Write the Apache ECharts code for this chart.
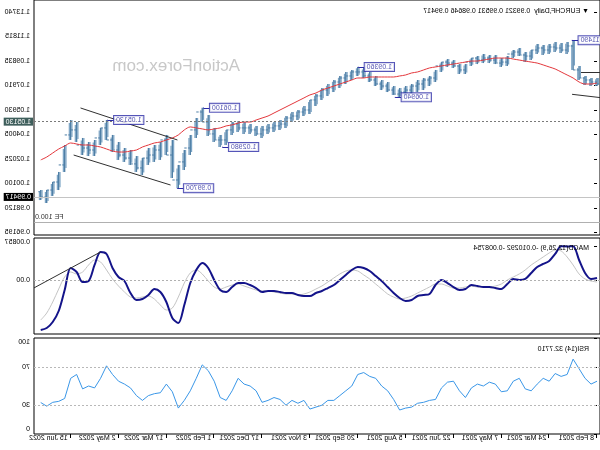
<!DOCTYPE html>
<html><head><meta charset="utf-8">
<script src="https://cdn.jsdelivr.net/npm/echarts@6/dist/echarts.min.js"></script>
<style>html,body{margin:0;padding:0;background:#fff}#c{width:600px;height:450px;transform:scaleX(-1);}</style>
</head><body><div id="c"></div><script>
// ---- data (bar index = trading days since 8 Feb 2021, sampled every 4 bars) ----
const step = 4;
const open = [1.0800,1.0816,1.0832,1.0848,1.0912,1.1103,1.1071,1.1087,1.1095,1.1071,1.1087,1.1071,1.1023,1.1031,1.1055,1.1039,1.0975,1.0967,1.0991,1.1007,1.0991,1.1007,1.0975,1.0912,1.0944,1.0967,1.0975,1.0944,1.0848,1.0832,1.0800,1.0784,1.0752,1.0736,1.0720,1.0752,1.0784,1.0800,1.0832,1.0864,1.0896,1.0896,1.0864,1.0848,1.0816,1.0768,1.0752,1.0705,1.0673,1.0593,1.0577,1.0545,1.0529,1.0481,1.0466,1.0450,1.0434,1.0402,1.0434,1.0450,1.0450,1.0481,1.0434,1.0354,1.0354,1.0402,1.0497,1.0577,1.0434,1.0290,1.0179,1.0035,1.0234,1.0354,1.0274,1.0234,1.0210,1.0131,1.0163,1.0210,1.0234,1.0274,1.0354,1.0450,1.0370,1.0274,1.0290,1.0314,1.0434,1.0394,1.0155,1.0019,0.9955,0.9899];
const high = [1.0848,1.0848,1.0864,1.0944,1.1149,1.1135,1.1127,1.1135,1.1119,1.1111,1.1119,1.1071,1.1055,1.1087,1.1071,1.1023,1.1007,1.1031,1.1031,1.1039,1.1023,1.1007,1.0959,1.0959,1.0991,1.0999,1.0975,1.0912,1.0864,1.0848,1.0832,1.0800,1.0784,1.0768,1.0784,1.0816,1.0832,1.0864,1.0896,1.0928,1.0936,1.0912,1.0896,1.0864,1.0832,1.0800,1.0768,1.0720,1.0673,1.0625,1.0593,1.0577,1.0545,1.0513,1.0497,1.0481,1.0466,1.0466,1.0481,1.0497,1.0505,1.0497,1.0434,1.0394,1.0450,1.0553,1.0610,1.0529,1.0394,1.0274,1.0155,1.0354,1.0394,1.0338,1.0314,1.0290,1.0210,1.0226,1.0274,1.0290,1.0338,1.0394,1.0513,1.0450,1.0354,1.0338,1.0370,1.0497,1.0513,1.0314,1.0099,1.0019,0.9955,0.9955];
const low = [1.0784,1.0784,1.0792,1.0832,1.0912,1.1039,1.1047,1.1055,1.1039,1.1031,1.1039,1.0991,1.0975,1.1023,1.1007,1.0944,1.0936,1.0959,1.0967,1.0967,1.0959,1.0944,1.0880,1.0880,1.0928,1.0936,1.0896,1.0816,1.0784,1.0752,1.0736,1.0720,1.0705,1.0694,1.0713,1.0736,1.0752,1.0784,1.0816,1.0848,1.0864,1.0832,1.0800,1.0768,1.0736,1.0705,1.0673,1.0625,1.0561,1.0545,1.0513,1.0497,1.0450,1.0434,1.0418,1.0402,1.0370,1.0386,1.0402,1.0402,1.0418,1.0394,1.0314,1.0298,1.0338,1.0386,1.0497,1.0370,1.0234,1.0115,0.9970,1.0051,1.0234,1.0195,1.0179,1.0155,1.0075,1.0099,1.0155,1.0179,1.0195,1.0258,1.0354,1.0314,1.0226,1.0226,1.0234,1.0338,1.0354,1.0099,0.9955,0.9908,0.9852,0.9875];
const close = [1.0816,1.0832,1.0848,1.0912,1.1103,1.1071,1.1087,1.1095,1.1071,1.1087,1.1071,1.1023,1.1031,1.1055,1.1039,1.0975,1.0967,1.0991,1.1007,1.0991,1.1007,1.0975,1.0912,1.0944,1.0967,1.0975,1.0944,1.0848,1.0832,1.0800,1.0784,1.0752,1.0736,1.0720,1.0752,1.0784,1.0800,1.0832,1.0864,1.0896,1.0896,1.0864,1.0848,1.0816,1.0768,1.0752,1.0705,1.0673,1.0593,1.0577,1.0545,1.0529,1.0481,1.0466,1.0450,1.0434,1.0402,1.0434,1.0450,1.0450,1.0481,1.0434,1.0354,1.0354,1.0402,1.0497,1.0577,1.0434,1.0290,1.0179,1.0035,1.0234,1.0354,1.0274,1.0234,1.0210,1.0131,1.0163,1.0210,1.0234,1.0274,1.0354,1.0450,1.0370,1.0274,1.0290,1.0314,1.0434,1.0394,1.0155,1.0019,0.9955,0.9899,0.99417];
const ma = [1.0808,1.0800,1.0800,1.0816,1.0848,1.0872,1.0896,1.0920,1.0936,1.0952,
1.0967,1.0975,1.0983,1.0991,1.0999,1.1007,1.1007,1.1007,1.0999,1.0991,
1.0983,1.0983,1.0975,1.0967,1.0959,1.0952,1.0944,1.0936,1.0928,1.0912,
1.0896,1.0888,1.0872,1.0864,1.0856,1.0856,1.0856,1.0856,1.0856,1.0848,
1.0848,1.0832,1.0816,1.0800,1.0784,1.0768,1.0752,1.0728,1.0713,1.0689,
1.0665,1.0641,1.0617,1.0593,1.0569,1.0545,1.0529,1.0513,1.0497,1.0497,
1.0489,1.0474,1.0466,1.0450,1.0442,1.0434,1.0442,1.0450,1.0458,1.0434,
1.0394,1.0370,1.0354,1.0338,1.0330,1.0314,1.0298,1.0274,1.0266,1.0258,
1.0258,1.0266,1.0282,1.0298,1.0306,1.0314,1.0314,1.0322,1.0330,1.0306,
1.0282,1.0250,1.0218,1.0195];
const macd = [0.00063,0.00038,0.00188,0.00513,0.00857,0.00850,0.00857,0.00663,0.00488,0.00413,
0.00338,0.00188,0.00038,0.00013,0.00038,-0.00088,-0.00213,-0.00188,-0.00163,-0.00163,
-0.00138,-0.00113,-0.00213,-0.00238,-0.00163,-0.00063,0.00013,-0.00113,-0.00338,-0.00363,
-0.00388,-0.00488,-0.00513,-0.00438,-0.00313,-0.00163,-0.00013,0.00113,0.00238,0.00313,
0.00338,0.00263,0.00138,0.00013,-0.00113,-0.00188,-0.00263,-0.00313,-0.00388,-0.00388,
-0.00363,-0.00313,-0.00313,-0.00288,-0.00263,-0.00263,-0.00288,-0.00188,-0.00113,-0.00063,
-0.00063,-0.00163,-0.00288,-0.00238,0.00013,0.00313,0.00438,0.00263,-0.00063,-0.00613,
-0.01063,-0.00938,-0.00538,-0.00288,-0.00213,-0.00363,-0.00463,-0.00488,-0.00313,-0.00013,
0.00088,0.00313,0.00663,0.00713,0.00388,-0.00013,-0.00038,0.00213,0.00313,-0.00238,
-0.00763,-0.01038,-0.01188,-0.01238];
const signal = [-0.00038,-0.00013,0.00038,0.00163,0.00388,0.00588,0.00738,0.00763,0.00688,0.00588,
0.00488,0.00388,0.00263,0.00163,0.00088,0.00013,-0.00088,-0.00138,-0.00163,-0.00163,
-0.00163,-0.00138,-0.00163,-0.00188,-0.00188,-0.00138,-0.00088,-0.00088,-0.00163,-0.00238,
-0.00313,-0.00388,-0.00438,-0.00463,-0.00413,-0.00338,-0.00213,-0.00088,0.00038,0.00138,
0.00238,0.00263,0.00238,0.00163,0.00063,-0.00038,-0.00138,-0.00213,-0.00288,-0.00338,
-0.00363,-0.00338,-0.00338,-0.00313,-0.00288,-0.00263,-0.00263,-0.00238,-0.00188,-0.00138,
-0.00088,-0.00113,-0.00163,-0.00213,-0.00163,-0.00013,0.00163,0.00263,0.00188,-0.00063,
-0.00413,-0.00688,-0.00738,-0.00613,-0.00463,-0.00388,-0.00413,-0.00438,-0.00413,-0.00288,
-0.00138,0.00038,0.00263,0.00463,0.00513,0.00388,0.00213,0.00163,0.00213,0.00088,
-0.00213,-0.00538,-0.00813,-0.00988];
const rsi = [55,52,58,68,78,62,60,63,55,58,52,45,47,58,55,45,44,52,54,50,52,48,38,45,55,54,48,36,35,33,32,28,27,25,36,45,50,58,60,64,62,50,45,40,35,35,30,28,26,35,32,35,30,36,38,35,33,45,50,52,58,45,35,38,55,66,72,58,45,35,27,44,52,43,42,40,35,40,48,52,55,62,71,58,48,50,47,62,58,37,34,33,29,32.77];

const dateLabels = ['8 Feb 2021','24 Mar 2021','7 May 2021','22 Jun 2021','5 Aug 2021','20 Sep 2021','3 Nov 2021','17 Dec 2021','1 Feb 2022','17 Mar 2022','2 May 2022','15 Jun 2022'];
const dateTickBars = [0,32,64,96,128,160,192,224,256,288,320,352];
const priceTicks = [1.13740,1.11815,1.09835,1.07910,1.05930,1.04005,1.02025,1.00100,0.98120,0.96195];
const macdTicks = [0.00857,0,-0.01345];
const macdTickText = ['0.00857','0.00','-0.01345'];
const rsiTicks = [100,70,30,0];

// horizontal levels
const currentPrice = 0.99417;
const hLevel = 1.05130;
const feLevel = 0.9652;
// swing labels [bar, price]
const swingBars = [16.7,135,159.7,250.5,263.2,280.6,327.3];
const swingPrices = [1.1149,1.0694,1.0936,1.0298,1.0610,0.9970,1.0513];
// trend lines [[bar,price],[bar,price]]
const trendLines = [
  [[280.6,1.0354],[345.4,1.0609]],
  [[285.2,0.9995],[350,1.0234]],
  [[-2,1.0890],[10.7,1.0890]],
  [[-2,1.0692],[16.7,1.0718]]
];
const macdTrend = [[332,0.00713],[376.5,-0.00185]];

const title = '\u25BC EURCHF,Daily  0.99321 0.99531 0.98646 0.99417';
const macdTitle = 'MACD(12,26,9) -0.010292 -0.008754';
const rsiTitle = 'RSI(14) 32.7710';

// ---- chart ----
const FONT = '"Liberation Sans", Arial, sans-serif';
const bars = close.map((c,i)=>i*step);
const ohlc = close.map((c,i)=>[bars[i], open[i], high[i], low[i], c]);
const xMin = -2, xMax = 376.5;
const grids = [{top:0,height:235},{top:238,height:96},{top:338,height:96}];
const chart = echarts.init(document.getElementById('c'), null, {renderer:'canvas'});
const txt = {fontFamily:FONT, fontSize:7, color:'#000'};

function xAxis(i, showLabels){
  return {type:'value', gridIndex:i, min:xMin, max:xMax, splitLine:{show:false},
    axisLine:{show:false},
    axisTick:{show:showLabels, length:4, inside:false, lineStyle:{color:'#000'}, customValues:dateTickBars},
    axisLabel:{show:showLabels, customValues:dateTickBars, ...txt, align:'left', margin:1, padding:[0,0,0,3],
      formatter:v=>dateLabels[dateTickBars.indexOf(v)] || ''}};
}
function renderBar(params, api){
  const x = api.value(0);
  const pO = api.coord([x, api.value(1)]);
  const pH = api.coord([x, api.value(2)]);
  const pL = api.coord([x, api.value(3)]);
  const pC = api.coord([x, api.value(4)]);
  const w = api.size([step,0])[0];
  const c = '#4f7fa6';
  return {type:'group', children:[
    {type:'line', shape:{x1:pH[0]-w*0.22, y1:pH[1], x2:pL[0]-w*0.22, y2:pL[1]-(pL[1]-pH[1])*0.15}, style:{stroke:'#7aa3c4', lineWidth:1.2}},
    {type:'line', shape:{x1:pH[0]+w*0.22, y1:pH[1]+(pL[1]-pH[1])*0.15, x2:pL[0]+w*0.22, y2:pL[1]}, style:{stroke:'#7aa3c4', lineWidth:1.2}},
    {type:'line', shape:{x1:pH[0], y1:pH[1], x2:pL[0], y2:pL[1]}, style:{stroke:c, lineWidth:1.4}},
    {type:'line', shape:{x1:pO[0]-w*0.4, y1:pO[1], x2:pO[0], y2:pO[1]}, style:{stroke:c, lineWidth:1}},
    {type:'line', shape:{x1:pC[0], y1:pC[1], x2:pC[0]+w*0.4, y2:pC[1]}, style:{stroke:c, lineWidth:1}}
  ]};
}
const seg = (a,b,color)=>[{coord:a, lineStyle:{color:color||'#333', width:1, type:'solid'}},{coord:b}];

const option = {
  animation:false,
  backgroundColor:'#fff',
  title:[
    {text:title, left:6, top:3, textStyle:{...txt, fontWeight:'normal'}},
    {text:'ActionForex.com', left:355, top:53, textStyle:{fontFamily:FONT, fontSize:17, color:'#c8c8c8', fontWeight:'normal'}},
    {text:macdTitle, left:6, top:240, textStyle:{...txt, fontWeight:'normal'}},
    {text:rsiTitle, left:6, top:341, textStyle:{...txt, fontWeight:'normal'}}
  ],
  grid: grids.map(g=>({left:0, right:34, top:g.top, height:g.height, show:true, borderColor:'#000', borderWidth:1, backgroundColor:'#fff'})),
  xAxis:[xAxis(0,false), xAxis(1,false), xAxis(2,true)],
  yAxis:[
    {type:'value', gridIndex:0, position:'right', min:0.95966, max:1.14696, splitLine:{show:false},
      axisLine:{show:false}, axisTick:{show:true, length:3, lineStyle:{color:'#000'}, customValues:priceTicks},
      axisLabel:{...txt, margin:4, customValues:priceTicks, formatter:v=>v.toFixed(5)}},
    {type:'value', gridIndex:1, position:'right', min:-0.013375, max:0.010625, splitLine:{show:false},
      axisLine:{show:false}, axisTick:{show:true, length:3, lineStyle:{color:'#000'}, customValues:macdTicks},
      axisLabel:{...txt, margin:4, customValues:macdTicks,
        formatter:v=>{const k=macdTicks.indexOf(v); const t=macdTickText[k]; return k===1? t : '{up|'+t+'}';},
        rich:{up:{...txt, padding:[0,0,9,0]}}}},
    {type:'value', gridIndex:2, position:'right', min:0, max:100, splitLine:{show:false},
      axisLine:{show:false}, axisTick:{show:true, length:3, lineStyle:{color:'#000'}, customValues:rsiTicks},
      axisLabel:{...txt, margin:4, customValues:rsiTicks,
        formatter:v=> v===100? '{dn|100}' : v===0 ? '{up|0}' : String(v),
        rich:{up:{...txt, padding:[0,0,9,0]}, dn:{...txt, padding:[9,0,0,0]}}}}
  ],
  series:[
    {type:'custom', name:'price', xAxisIndex:0, yAxisIndex:0, renderItem:renderBar, data:ohlc, clip:true, z:3},
    {type:'line', name:'ma', xAxisIndex:0, yAxisIndex:0, data:ma.map((v,i)=>[bars[i],v]), showSymbol:false, smooth:0.3,
      lineStyle:{color:'#e4373c', width:1}, z:4,
      markLine:{silent:true, symbol:['none','none'], animation:false,
        data:[
          {yAxis:hLevel, lineStyle:{color:'#7a7a7a', type:[2,2], width:1},
            label:{show:true, position:'end', distance:1, formatter:'1.05130', ...txt, color:'#fff', backgroundColor:'#3f5f5c', padding:[1,2,0,2]}},
          {yAxis:currentPrice, lineStyle:{color:'#c4c4c4', type:'solid', width:1},
            label:{show:true, position:'end', distance:1, formatter:'0.99417', ...txt, color:'#fff', backgroundColor:'#000', padding:[1,2,0,2]}},
          {yAxis:feLevel, lineStyle:{color:'#b0b0b0', type:'solid', width:1},
            label:{show:true, position:'insideEndTop', distance:1, formatter:'FE 100.0', ...txt, color:'#333'}},
          ...trendLines.map(t=>seg(t[0],t[1],'#303030')),
          ...swingBars.map((b,i)=>seg([b,swingPrices[i]],[b-4,swingPrices[i]],'#2b2ba6'))
        ]}},
    {type:'scatter', name:'swings', xAxisIndex:0, yAxisIndex:0, symbolSize:1, itemStyle:{color:'#2b2ba6'},
      data:swingBars.map((b,i)=>[b, swingPrices[i]]), z:6,
      label:{show:true, position:'left', distance:6, formatter:p=>p.value[1].toFixed(5), ...txt, color:'#1f1f9a',
        backgroundColor:'#fff', borderColor:'#2b2ba6', borderWidth:1, padding:[1,2,0,2]}},
    {type:'line', name:'signal', xAxisIndex:1, yAxisIndex:1, data:signal.map((v,i)=>[bars[i],v]), showSymbol:false, smooth:0.3,
      lineStyle:{color:'#c4c4c4', width:1}, z:3,
      markLine:{silent:true, symbol:['none','none'], data:[
        {yAxis:0, lineStyle:{color:'#b0b0b0', type:[2,2], width:1}, label:{show:false}},
        seg(macdTrend[0], macdTrend[1], '#303030')]}},
    {type:'line', name:'macd', xAxisIndex:1, yAxisIndex:1, data:macd.map((v,i)=>[bars[i],v]), showSymbol:false, smooth:0.3,
      lineStyle:{color:'#14148a', width:2}, z:4},
    {type:'line', name:'rsi', xAxisIndex:2, yAxisIndex:2, data:rsi.map((v,i)=>[bars[i],v]), showSymbol:false,
      lineStyle:{color:'#3a97e8', width:1}, z:4,
      markLine:{silent:true, symbol:['none','none'], label:{show:false}, data:[
        {yAxis:70, lineStyle:{color:'#b8b8b8', type:[2,2], width:1}},
        {yAxis:30, lineStyle:{color:'#b8b8b8', type:[2,2], width:1}}]}}
  ]
};
chart.setOption(option);
</script></body></html>
